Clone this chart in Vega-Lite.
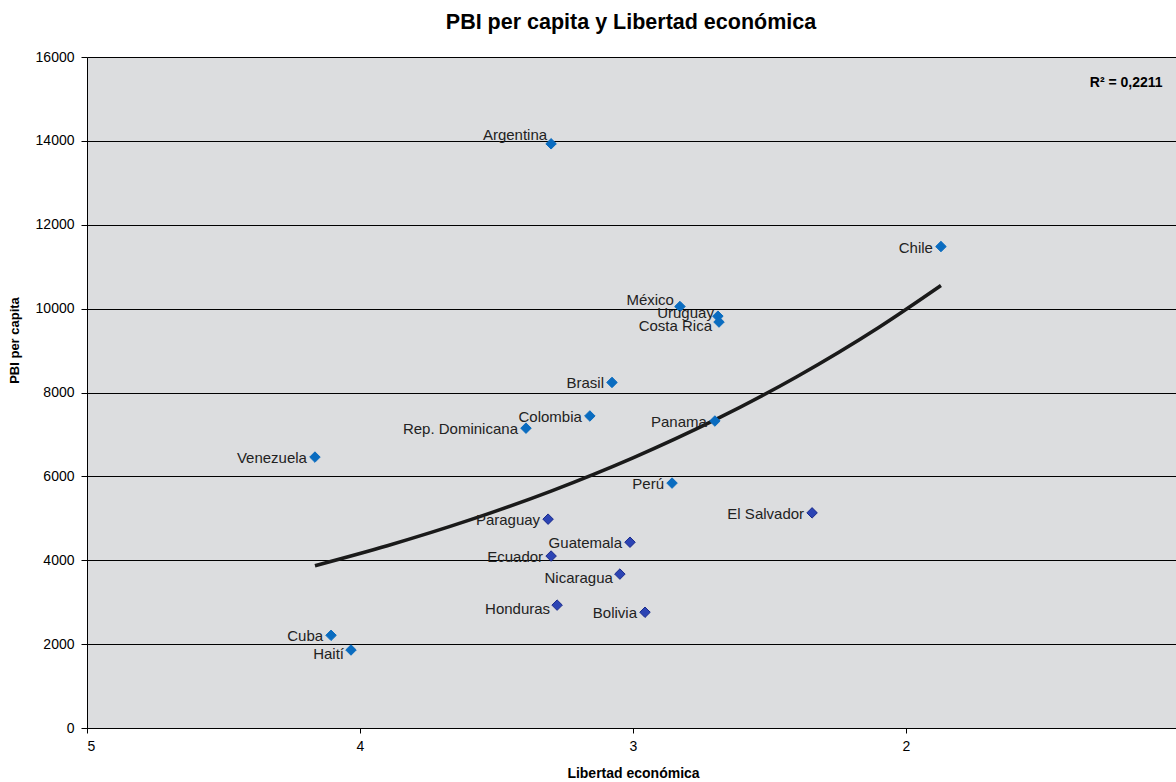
{
  "$schema": "https://vega.github.io/schema/vega-lite/v6.json",
  "width": 1092,
  "height": 671,
  "autosize": {"type": "none"},
  "padding": {"left": 87, "top": 57, "right": 0, "bottom": 54},
  "background": "#ffffff",
  "title": {
    "text": "PBI per capita y Libertad económica",
    "font": "Liberation Sans",
    "fontSize": 21.5,
    "fontWeight": "bold",
    "color": "#000000",
    "anchor": "middle",
    "offset": 17,
    "dx": -2
  },
  "config": {
    "view": {"fill": "#DCDDDF", "stroke": null},
    "font": "Liberation Sans"
  },
  "datasets": {
    "paises": [
      {"pais": "Argentina", "libertad": 3.30, "pbi": 13930, "grupo": "A"},
      {"pais": "Chile", "libertad": 1.872, "pbi": 11480, "grupo": "A"},
      {"pais": "México", "libertad": 2.828, "pbi": 10050, "grupo": "A"},
      {"pais": "Uruguay", "libertad": 2.689, "pbi": 9820, "grupo": "A"},
      {"pais": "Costa Rica", "libertad": 2.685, "pbi": 9680, "grupo": "A"},
      {"pais": "Brasil", "libertad": 3.077, "pbi": 8240, "grupo": "A"},
      {"pais": "Colombia", "libertad": 3.158, "pbi": 7440, "grupo": "A"},
      {"pais": "Rep. Dominicana", "libertad": 3.392, "pbi": 7150, "grupo": "A"},
      {"pais": "Panama", "libertad": 2.70, "pbi": 7320, "grupo": "A"},
      {"pais": "Venezuela", "libertad": 4.165, "pbi": 6460, "grupo": "A"},
      {"pais": "Perú", "libertad": 2.857, "pbi": 5840, "grupo": "A"},
      {"pais": "El Salvador", "libertad": 2.344, "pbi": 5130, "grupo": "B"},
      {"pais": "Paraguay", "libertad": 3.311, "pbi": 4980, "grupo": "B"},
      {"pais": "Guatemala", "libertad": 3.011, "pbi": 4430, "grupo": "B"},
      {"pais": "Ecuador", "libertad": 3.30, "pbi": 4100, "grupo": "B"},
      {"pais": "Nicaragua", "libertad": 3.048, "pbi": 3670, "grupo": "B"},
      {"pais": "Honduras", "libertad": 3.278, "pbi": 2930, "grupo": "B"},
      {"pais": "Bolivia", "libertad": 2.956, "pbi": 2760, "grupo": "B"},
      {"pais": "Cuba", "libertad": 4.106, "pbi": 2210, "grupo": "A"},
      {"pais": "Haití", "libertad": 4.033, "pbi": 1860, "grupo": "A"}
    ],
    "tendencia": [
      {"libertad": 4.165, "pbi": 3870},
      {"libertad": 3.9, "pbi": 4346},
      {"libertad": 3.6, "pbi": 4955},
      {"libertad": 3.3, "pbi": 5650},
      {"libertad": 3.0, "pbi": 6442},
      {"libertad": 2.7, "pbi": 7346},
      {"libertad": 2.4, "pbi": 8375},
      {"libertad": 2.1, "pbi": 9549},
      {"libertad": 1.872, "pbi": 10550}
    ]
  },
  "data": {"name": "paises"},
  "encoding": {
    "x": {
      "field": "libertad",
      "type": "quantitative",
      "scale": {"domain": [1, 5], "reverse": true, "nice": false, "zero": false},
      "axis": {
        "title": "Libertad económica",
        "titleFont": "Liberation Sans",
        "titleFontSize": 14,
        "titleFontWeight": "bold",
        "titleColor": "#000000",
        "titlePadding": 13,
        "values": [5, 4, 3, 2],
        "labelFont": "Liberation Sans",
        "labelFontSize": 14,
        "labelColor": "#000000",
        "labelPadding": 6,
        "tickColor": "#000000",
        "tickSize": 5,
        "domainColor": "#000000",
        "grid": false,
        "format": "d"
      }
    },
    "y": {
      "field": "pbi",
      "type": "quantitative",
      "scale": {"domain": [0, 16000], "nice": false},
      "axis": {
        "title": "PBI per capita",
        "titleFont": "Liberation Sans",
        "titleFontSize": 13,
        "titleFontWeight": "bold",
        "titleColor": "#000000",
        "titlePadding": 14,
        "titleY": 283,
        "values": [0, 2000, 4000, 6000, 8000, 10000, 12000, 14000, 16000],
        "format": "d",
        "labelFont": "Liberation Sans",
        "labelFontSize": 14,
        "labelColor": "#000000",
        "labelPadding": 7,
        "tickColor": "#000000",
        "tickSize": 6,
        "domainColor": "#000000",
        "grid": true,
        "gridColor": "#000000",
        "gridWidth": 1
      }
    }
  },
  "layer": [
    {
      "data": {"name": "tendencia"},
      "mark": {"type": "line", "color": "#1a1a1a", "strokeWidth": 3.5, "interpolate": "monotone"},
      "encoding": {}
    },
    {
      "mark": {"type": "point", "shape": "diamond", "filled": true, "size": 110, "strokeWidth": 1, "opacity": 1},
      "encoding": {
        "color": {
          "field": "grupo",
          "type": "nominal",
          "scale": {"domain": ["A", "B"], "range": ["#0A6CC0", "#2C44B4"]},
          "legend": null
        },
        "stroke": {
          "field": "grupo",
          "type": "nominal",
          "scale": {"domain": ["A", "B"], "range": ["#0A6CC0", "#1A2A8C"]},
          "legend": null
        }
      }
    },
    {
      "transform": [{"filter": {"not": {"field": "pais", "oneOf": ["Argentina", "México", "Uruguay", "Costa Rica", "Haití", "Honduras", "Nicaragua"]}}}],
      "mark": {"type": "text", "align": "right", "baseline": "middle", "dx": -8, "dy": 1, "font": "Liberation Sans", "fontSize": 15, "color": "#222222"},
      "encoding": {"text": {"field": "pais"}}
    },
    {
      "transform": [{"filter": {"field": "pais", "oneOf": ["Argentina"]}}],
      "mark": {"type": "text", "align": "right", "baseline": "middle", "dx": -4, "dy": -9, "font": "Liberation Sans", "fontSize": 15, "color": "#222222"},
      "encoding": {"text": {"field": "pais"}}
    },
    {
      "transform": [{"filter": {"field": "pais", "oneOf": ["México"]}}],
      "mark": {"type": "text", "align": "right", "baseline": "middle", "dx": -6, "dy": -7, "font": "Liberation Sans", "fontSize": 15, "color": "#222222"},
      "encoding": {"text": {"field": "pais"}}
    },
    {
      "transform": [{"filter": {"field": "pais", "oneOf": ["Uruguay"]}}],
      "mark": {"type": "text", "align": "right", "baseline": "middle", "dx": -4, "dy": -3, "font": "Liberation Sans", "fontSize": 15, "color": "#222222"},
      "encoding": {"text": {"field": "pais"}}
    },
    {
      "transform": [{"filter": {"field": "pais", "oneOf": ["Costa Rica", "Haití", "Honduras", "Nicaragua"]}}],
      "mark": {"type": "text", "align": "right", "baseline": "middle", "dx": -7, "dy": 4, "font": "Liberation Sans", "fontSize": 15, "color": "#222222"},
      "encoding": {"text": {"field": "pais"}}
    },
    {
      "transform": [{"filter": {"field": "pais", "equal": "Chile"}}],
      "mark": {"type": "text", "align": "right", "baseline": "middle", "font": "Liberation Sans", "fontSize": 14, "fontWeight": "bold", "color": "#000000"},
      "encoding": {
        "x": {"datum": 1.06, "type": "quantitative"},
        "y": {"datum": 15380, "type": "quantitative"},
        "text": {"value": "R² = 0,2211"}
      }
    }
  ]
}
